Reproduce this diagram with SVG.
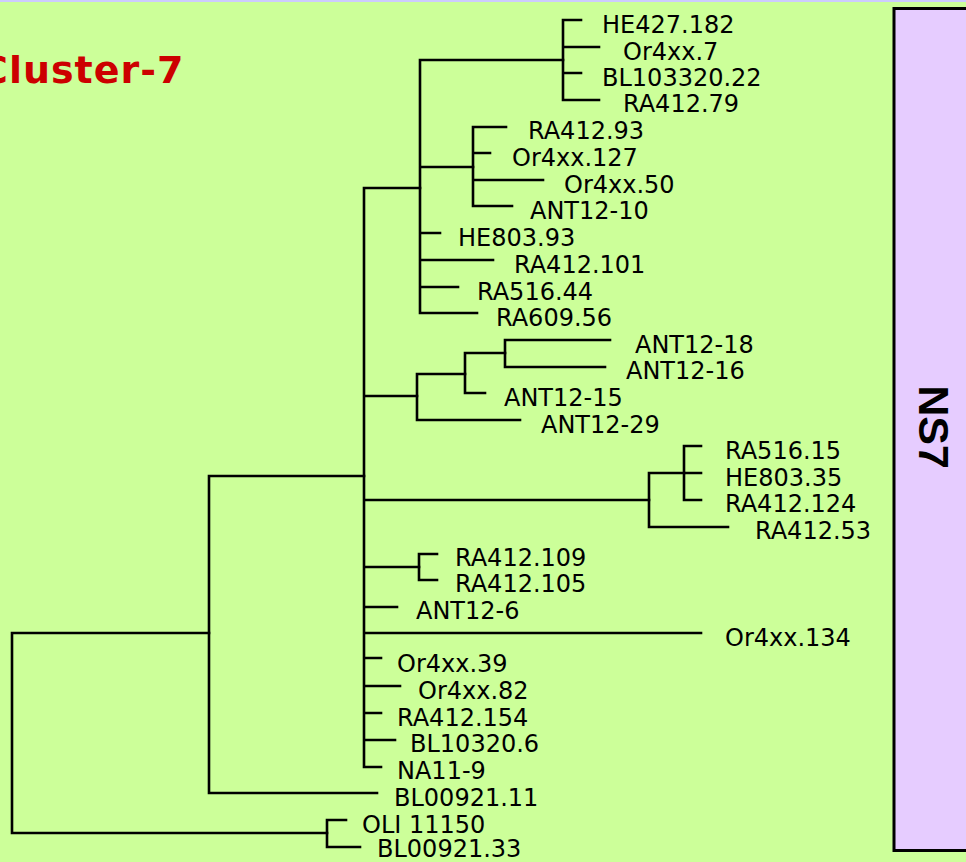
<svg xmlns="http://www.w3.org/2000/svg" width="966" height="862" viewBox="0 0 966 862">
<style>
.bg{fill:#CCFF99}
.e{fill:none;stroke:#000;stroke-width:2.6;stroke-linecap:square;stroke-linejoin:miter}
.t{font-family:"DejaVu Sans","Liberation Sans",sans-serif;font-size:24px;fill:#000}
.title{font-family:"DejaVu Sans","Liberation Sans",sans-serif;font-size:38px;font-weight:bold;fill:#CC0000;letter-spacing:1px}
.ns{font-family:"Liberation Sans","DejaVu Sans",sans-serif;font-size:43px;font-weight:bold;fill:#000}
</style>
<rect class="bg" x="0" y="0" width="966" height="862"/>
<rect x="0" y="0" width="966" height="2" fill="#CCCCFF"/>
<g id="title"><text class="title" x="-20" y="83">Cluster-7</text></g>
<g id="ns7-box">
<rect x="894" y="8.5" width="100" height="842" fill="#E6CCFF" stroke="#000" stroke-width="3"/>
<text class="ns" transform="translate(919,427) rotate(90)" text-anchor="middle">NS7</text>
</g>
<g id="connectors">
<path class="e" d="M12,633V833M12,633H209M12,833H327"/>
<path class="e" d="M209,476V793M209,476H364M209,793H377"/>
<path class="e" d="M364,188V767M364,188H420M364,396H417M364,500H649M364,567H419M364,607H397M364,633H701M364,658H381M364,686H400M364,713H381M364,740H395M364,767H381"/>
<path class="e" d="M420,60V313M420,60H563M420,167H473M420,233H440M420,260H493M420,287H458M420,313H477"/>
<path class="e" d="M563,20V100M563,20H581M563,47H599M563,73H581M563,100H599"/>
<path class="e" d="M473,127V206M473,127H506M473,153H490M473,180H543M473,206H512"/>
<path class="e" d="M417,374V420M417,374H465M417,420H520"/>
<path class="e" d="M465,353V393M465,353H505M465,393H485"/>
<path class="e" d="M505,340V367M505,340H610M505,367H605"/>
<path class="e" d="M649,473V527M649,473H684M649,527H728"/>
<path class="e" d="M684,446V500M684,446H701M684,473H701M684,500H701"/>
<path class="e" d="M419,554V580M419,554H437M419,580H437"/>
<path class="e" d="M327,820V847M327,820H346M327,847H360"/>
</g>
<g id="leaf-HE427.182"><text class="t" x="602" y="33">HE427.182</text></g>
<g id="leaf-Or4xx.7"><text class="t" x="623" y="60">Or4xx.7</text></g>
<g id="leaf-BL103320.22"><text class="t" x="602" y="86">BL103320.22</text></g>
<g id="leaf-RA412.79"><text class="t" x="623" y="112">RA412.79</text></g>
<g id="leaf-RA412.93"><text class="t" x="528" y="139">RA412.93</text></g>
<g id="leaf-Or4xx.127"><text class="t" x="512" y="166">Or4xx.127</text></g>
<g id="leaf-Or4xx.50"><text class="t" x="564" y="193">Or4xx.50</text></g>
<g id="leaf-ANT12-10"><text class="t" x="530" y="219">ANT12-10</text></g>
<g id="leaf-HE803.93"><text class="t" x="458" y="246">HE803.93</text></g>
<g id="leaf-RA412.101"><text class="t" x="514" y="273">RA412.101</text></g>
<g id="leaf-RA516.44"><text class="t" x="477" y="300">RA516.44</text></g>
<g id="leaf-RA609.56"><text class="t" x="496" y="326">RA609.56</text></g>
<g id="leaf-ANT12-18"><text class="t" x="635" y="353">ANT12-18</text></g>
<g id="leaf-ANT12-16"><text class="t" x="626" y="379">ANT12-16</text></g>
<g id="leaf-ANT12-15"><text class="t" x="504" y="406">ANT12-15</text></g>
<g id="leaf-ANT12-29"><text class="t" x="541" y="433">ANT12-29</text></g>
<g id="leaf-RA516.15"><text class="t" x="725" y="459">RA516.15</text></g>
<g id="leaf-HE803.35"><text class="t" x="725" y="486">HE803.35</text></g>
<g id="leaf-RA412.124"><text class="t" x="725" y="512">RA412.124</text></g>
<g id="leaf-RA412.53"><text class="t" x="755" y="539">RA412.53</text></g>
<g id="leaf-RA412.109"><text class="t" x="455" y="566">RA412.109</text></g>
<g id="leaf-RA412.105"><text class="t" x="455" y="592">RA412.105</text></g>
<g id="leaf-ANT12-6"><text class="t" x="416" y="619">ANT12-6</text></g>
<g id="leaf-Or4xx.134"><text class="t" x="725" y="646">Or4xx.134</text></g>
<g id="leaf-Or4xx.39"><text class="t" x="397" y="672">Or4xx.39</text></g>
<g id="leaf-Or4xx.82"><text class="t" x="418" y="699">Or4xx.82</text></g>
<g id="leaf-RA412.154"><text class="t" x="397" y="726">RA412.154</text></g>
<g id="leaf-BL10320.6"><text class="t" x="410" y="752">BL10320.6</text></g>
<g id="leaf-NA11-9"><text class="t" x="397" y="779">NA11-9</text></g>
<g id="leaf-BL00921.11"><text class="t" x="394" y="806">BL00921.11</text></g>
<g id="leaf-OLI11150"><text class="t" x="362" y="833">OLI 11150</text></g>
<g id="leaf-BL00921.33"><text class="t" x="377" y="857">BL00921.33</text></g>
</svg>
